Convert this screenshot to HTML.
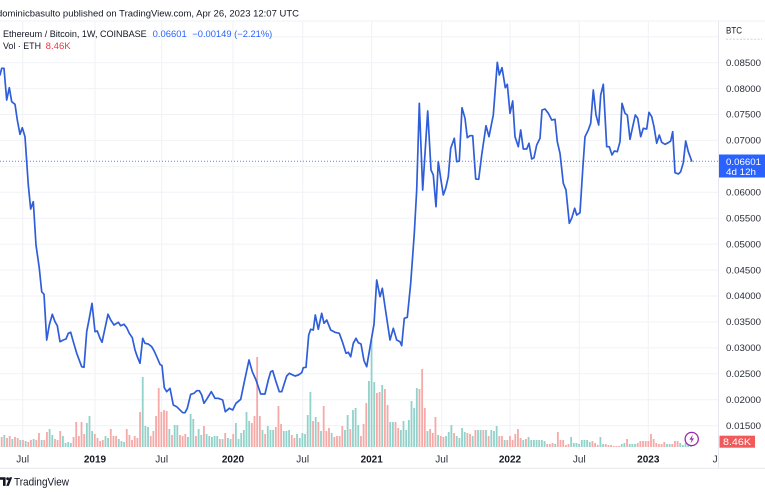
<!DOCTYPE html>
<html><head><meta charset="utf-8">
<style>
html,body{margin:0;padding:0;background:#fff;}
svg{display:block;font-family:"Liberation Sans",sans-serif;}
</style></head>
<body>
<svg width="765" height="495" viewBox="0 0 765 495" xmlns="http://www.w3.org/2000/svg">
<defs>
<clipPath id="pane"><rect x="0" y="21" width="718" height="430"/></clipPath>
<clipPath id="tax"><rect x="0" y="450" width="718" height="18"/></clipPath>
</defs>
<rect width="765" height="495" fill="#fff"/>
<!-- header -->
<text x="-3" y="16.5" font-size="9.5" fill="#131722" textLength="302" lengthAdjust="spacingAndGlyphs">dominicbasulto published on TradingView.com, Apr 26, 2023 12:07 UTC</text>
<line x1="0" y1="21" x2="765" y2="21" stroke="#eef0f3" stroke-width="1"/>
<!-- grid -->
<g stroke="#f0f2f5" stroke-width="1">
<line x1="0" x2="718" y1="36.8" y2="36.8"/>
<line x1="0" x2="718" y1="62.7" y2="62.7"/>
<line x1="0" x2="718" y1="88.6" y2="88.6"/>
<line x1="0" x2="718" y1="114.5" y2="114.5"/>
<line x1="0" x2="718" y1="140.4" y2="140.4"/>
<line x1="0" x2="718" y1="166.4" y2="166.4"/>
<line x1="0" x2="718" y1="192.3" y2="192.3"/>
<line x1="0" x2="718" y1="218.2" y2="218.2"/>
<line x1="0" x2="718" y1="244.1" y2="244.1"/>
<line x1="0" x2="718" y1="270.1" y2="270.1"/>
<line x1="0" x2="718" y1="296" y2="296"/>
<line x1="0" x2="718" y1="321.9" y2="321.9"/>
<line x1="0" x2="718" y1="347.9" y2="347.9"/>
<line x1="0" x2="718" y1="373.8" y2="373.8"/>
<line x1="0" x2="718" y1="399.7" y2="399.7"/>
<line x1="0" x2="718" y1="425.7" y2="425.7"/>
<line y1="21" y2="450" x1="22.7" x2="22.7"/>
<line y1="21" y2="450" x1="95" x2="95"/>
<line y1="21" y2="450" x1="161.7" x2="161.7"/>
<line y1="21" y2="450" x1="233" x2="233"/>
<line y1="21" y2="450" x1="302.7" x2="302.7"/>
<line y1="21" y2="450" x1="371.7" x2="371.7"/>
<line y1="21" y2="450" x1="441.7" x2="441.7"/>
<line y1="21" y2="450" x1="510" x2="510"/>
<line y1="21" y2="450" x1="579.3" x2="579.3"/>
<line y1="21" y2="450" x1="648.3" x2="648.3"/>
</g>
<line x1="718.5" y1="21" x2="718.5" y2="468" stroke="#e6e8ee" stroke-width="1"/>
<!-- volume -->
<g clip-path="url(#pane)">
<g transform="translate(1.7,447) scale(2.661,1)" stroke-width="0.68" fill="none">
<path stroke="#92d2ca" d="M1 0v-12M4 0v-8M7 0v-7M9 0v-6M12 0v-8M15 0v-7M18 0v-18M19 0v-12M23 0v-11M24 0v-4M25 0v-5M26 0v-4M32 0v-24M33 0v-31M34 0v-16M39 0v-11M40 0v-9M44 0v-8M45 0v-6M46 0v-5M53 0v-70M54 0v-21M55 0v-20M63 0v-18M65 0v-22M66 0v-22M70 0v-10M71 0v-33M72 0v-28M74 0v-18M75 0v-12M77 0v-13M78 0v-11M79 0v-10M80 0v-11M81 0v-11M83 0v-8M85 0v-9M86 0v-8M88 0v-24M89 0v-8M90 0v-14M91 0v-17M92 0v-35M93 0v-26M98 0v-17M100 0v-21M101 0v-17M102 0v-17M106 0v-16M107 0v-16M108 0v-17M111 0v-13M112 0v-9M113 0v-14M114 0v-13M115 0v-32M116 0v-55M118 0v-30M120 0v-16M124 0v-14M129 0v-17M130 0v-32M132 0v-37M133 0v-39M134 0v-22M138 0v-66M139 0v-107M140 0v-65M143 0v-62M146 0v-25M147 0v-25M150 0v-17M151 0v-26M152 0v-17M153 0v-27M154 0v-46M155 0v-39M156 0v-59M160 0v-16M164 0v-12M167 0v-11M168 0v-15M169 0v-22M171 0v-11M172 0v-9M173 0v-19M174 0v-15M177 0v-11M179 0v-17M180 0v-17M182 0v-17M184 0v-17M185 0v-16M186 0v-21M189 0v-7M196 0v-7M198 0v-10M199 0v-7M200 0v-7M201 0v-7M202 0v-7M203 0v-7M204 0v-6M208 0v-3M214 0v-10M215 0v-4M216 0v-4M217 0v-3M218 0v-7M219 0v-7M220 0v-7M221 0v-5M225 0v-10M226 0v-3M233 0v-3M234 0v-4M236 0v-3M237 0v-3M238 0v-3M250 0v-3M251 0v-3M255 0v-4M256 0v-2M257 0v-4M258 0v-4M259 0v-3"/>
<path stroke="#f5aaa8" d="M0 0v-10M2 0v-9M3 0v-11M5 0v-10M6 0v-9M8 0v-7M10 0v-5M11 0v-7M13 0v-7M14 0v-14M16 0v-7M17 0v-15M20 0v-8M21 0v-7M22 0v-16M27 0v-10M28 0v-25M29 0v-11M30 0v-25M31 0v-13M35 0v-13M36 0v-9M37 0v-6M38 0v-7M41 0v-18M42 0v-11M43 0v-11M47 0v-18M48 0v-12M49 0v-7M50 0v-11M51 0v-9M52 0v-35M56 0v-11M57 0v-16M58 0v-31M59 0v-59M60 0v-35M61 0v-37M62 0v-36M64 0v-12M67 0v-12M68 0v-11M69 0v-13M73 0v-11M76 0v-21M82 0v-8M84 0v-14M87 0v-13M94 0v-24M95 0v-31M96 0v-90M97 0v-31M99 0v-13M103 0v-20M104 0v-41M105 0v-23M109 0v-12M110 0v-9M117 0v-26M119 0v-25M121 0v-41M122 0v-16M123 0v-19M125 0v-10M126 0v-11M127 0v-11M128 0v-21M131 0v-18M135 0v-11M136 0v-23M137 0v-44M141 0v-54M142 0v-55M144 0v-58M145 0v-42M148 0v-25M149 0v-19M157 0v-58M158 0v-78M159 0v-39M161 0v-18M162 0v-14M163 0v-30M165 0v-11M166 0v-10M170 0v-14M175 0v-14M176 0v-13M178 0v-17M181 0v-17M183 0v-11M187 0v-11M188 0v-11M190 0v-7M191 0v-11M192 0v-7M193 0v-13M194 0v-18M195 0v-9M197 0v-8M205 0v-3M206 0v-3M207 0v-4M209 0v-15M210 0v-7M211 0v-7M212 0v-2M213 0v-3M222 0v-6M223 0v-4M224 0v-2M227 0v-3M228 0v-2M229 0v-2M230 0v-1M231 0v-1M232 0v-1M235 0v-8M239 0v-4M240 0v-6M241 0v-6M242 0v-6M243 0v-6M244 0v-13M245 0v-8M246 0v-4M247 0v-3M248 0v-3M249 0v-5M252 0v-3M253 0v-6M254 0v-6"/>
</g>
<!-- last price dotted -->
<line x1="0" x2="718" y1="161.2" y2="161.2" stroke="#5b7ee8" stroke-width="1" stroke-dasharray="1 2"/>
<!-- price line -->
<polyline fill="none" stroke="#2f5ed8" stroke-width="1.7" stroke-linejoin="round" stroke-linecap="round" points="0,75 1.7,68.3 4,68.3 6.7,100 9.3,87.7 11.7,101.7 15,104.3 17.3,120 20,134.3 22.3,127.7 25,136.7 26.7,161.7 28.3,185 30.7,209 33.3,201.7 36,245 39.3,268.3 41.7,291.7 44,294.3 46.7,340 49.3,325 52.3,314.3 55,321.7 57.3,325.7 60,341.7 63.3,340 66,339 68.3,333.3 70.7,332.3 73.3,341.7 76.7,353.3 81.7,366.7 84,367.3 86.7,331.7 89.3,318.3 92,303.3 95,331.7 97.3,331 100,338.3 102,342.3 105,328.3 108,314.3 110.7,320 114,325 118.3,322.3 120.7,325.7 124,324.3 126.7,327.7 129.3,333.3 132.3,337.7 135,350 137.3,356.7 140,363.3 142.7,338.3 145,343.3 148.3,344 151.7,346.7 154,350.7 156.7,356.7 160,364.3 162,365.7 164.3,387.7 166.7,391.7 170,388.3 173.3,405 176.7,406.7 179.3,409.3 182.7,412.7 185,412.7 187.3,408.3 190.7,394.3 194,393.3 196.7,390.7 199.3,390.7 201.7,395 204,403.3 207.3,398.3 211.3,391.7 215,398.3 218.3,398.3 222.7,400 225.3,411.7 229.3,408.3 232.7,410 236,403.3 240.7,399.3 244,383.3 249,360 252.3,371.7 256,380 260.7,394 265,394 268.3,380 270.7,371.7 272.7,370.7 276,381.7 279.3,391.7 281.7,391.7 286.7,376 289.3,373.3 295,376 298.3,375 301.7,372.7 303.3,367.7 306,367.3 308.7,335 310.7,329.3 313.3,330 315.3,315 318.3,329.3 321.7,313.3 324,323.3 326.7,320 330.7,330 335,332.3 339.3,333.3 342.7,342.7 346,353.3 348.3,352.3 350.7,356.7 353.3,343.3 356,338.3 358.3,342.7 361,344 364,360.7 366.7,366.7 370,347.3 374,324.3 376.7,280 380,296.7 382.3,288.3 386,313.3 390,340 393.3,328.3 396.7,340 400,341.7 401.7,345.7 404.3,318.3 407.3,317.3 410.7,283.3 414.3,233.3 416.7,190 419.3,103.3 422.7,190 427.7,111 431,170 433.3,175 436,206.7 438.3,161.7 440.7,178.3 443.3,195 445.7,188.3 448.3,176.7 450.7,148.3 454.3,138.3 456.7,161.7 459.3,161 462,107.7 465,118.3 467.3,137.7 470,135.7 472.7,135.7 475.7,179 478.7,179.3 481.7,155 486,125.7 489,136.7 493.3,115 497.3,62.3 499.3,75 502,67.7 505.3,87.7 507.3,84.3 510,113.3 512.7,101 515,136.7 518.3,146.7 520.7,130 523.3,149 526.7,149 529,143.3 531.7,159 534,157.7 536.7,145 540,138.3 542,110 545,109 548.3,113.3 551.7,120 555,119.3 557.3,141.7 560,153.3 563.3,183.3 566,190 569.3,223.3 571.7,218.3 574.7,208.3 576.7,215 580,212.7 582.7,170 585,136.7 588.3,130 590.7,123.3 593.3,90 596,115 598.7,125 600.7,95 603.3,84.3 606.7,146.7 609.3,146.7 612,155 614.3,151 617.3,151.7 620,141.7 622,103.3 625,113.3 627.3,115 630,139.3 632.7,126.7 635.3,115 637.7,118.3 640.7,136.7 643.3,128.3 646.7,129 649,112.3 651.7,116.7 654,126.7 656.7,143.3 659.3,135 661.7,142.3 665,144.3 668.3,142.7 670.7,141 672.7,131.7 675,172.7 678.3,174 680.7,171.7 683.3,162.7 685.7,141 688.3,151.7 691.7,161"/>
</g>
<!-- lightning icon -->
<circle cx="691.7" cy="439" r="6.6" fill="#fff" stroke="#9c27b0" stroke-width="1.3"/>
<path d="M692.8 434.6 L689.4 439.6 L691.6 439.6 L690.6 443.4 L694 438.4 L691.8 438.4 Z" fill="#9c27b0"/>
<!-- legend -->
<text x="3" y="37" font-size="9" fill="#131722" textLength="143.7" lengthAdjust="spacingAndGlyphs">Ethereum / Bitcoin, 1W, COINBASE</text>
<text x="152.7" y="37" font-size="9" fill="#2962ff" textLength="34" lengthAdjust="spacingAndGlyphs">0.06601</text>
<text x="192.3" y="37" font-size="9" fill="#2962ff" textLength="80" lengthAdjust="spacingAndGlyphs">−0.00149 (−2.21%)</text>
<text x="3" y="49" font-size="9" fill="#131722" textLength="38" lengthAdjust="spacingAndGlyphs">Vol · ETH</text>
<text x="45.7" y="49" font-size="9" fill="#f23645" textLength="25" lengthAdjust="spacingAndGlyphs">8.46K</text>
<!-- right axis -->
<text x="726" y="33.3" font-size="9" fill="#131722" textLength="16" lengthAdjust="spacingAndGlyphs">BTC</text>
<line x1="726" x2="762" y1="39.2" y2="39.2" stroke="#c9ccd3" stroke-width="0.8" stroke-dasharray="2 1.5"/>
<g font-size="9" fill="#2a2e39">
<text x="726" y="65.9" textLength="35" lengthAdjust="spacingAndGlyphs">0.08500</text>
<text x="726" y="91.8" textLength="35" lengthAdjust="spacingAndGlyphs">0.08000</text>
<text x="726" y="117.7" textLength="35" lengthAdjust="spacingAndGlyphs">0.07500</text>
<text x="726" y="143.6" textLength="35" lengthAdjust="spacingAndGlyphs">0.07000</text>
<text x="726" y="195.5" textLength="35" lengthAdjust="spacingAndGlyphs">0.06000</text>
<text x="726" y="221.4" textLength="35" lengthAdjust="spacingAndGlyphs">0.05500</text>
<text x="726" y="247.3" textLength="35" lengthAdjust="spacingAndGlyphs">0.05000</text>
<text x="726" y="273.3" textLength="35" lengthAdjust="spacingAndGlyphs">0.04500</text>
<text x="726" y="299.2" textLength="35" lengthAdjust="spacingAndGlyphs">0.04000</text>
<text x="726" y="325.1" textLength="35" lengthAdjust="spacingAndGlyphs">0.03500</text>
<text x="726" y="351.1" textLength="35" lengthAdjust="spacingAndGlyphs">0.03000</text>
<text x="726" y="377" textLength="35" lengthAdjust="spacingAndGlyphs">0.02500</text>
<text x="726" y="402.9" textLength="35" lengthAdjust="spacingAndGlyphs">0.02000</text>
<text x="726" y="428.9" textLength="35" lengthAdjust="spacingAndGlyphs">0.01500</text>
</g>
<rect x="719" y="154.5" width="46" height="23" fill="#2962ff"/>
<text x="726" y="164.9" font-size="9" fill="#fff" textLength="35" lengthAdjust="spacingAndGlyphs">0.06601</text>
<text x="726" y="174.8" font-size="9" fill="#fff" textLength="30" lengthAdjust="spacingAndGlyphs">4d 12h</text>
<rect x="719.5" y="435.7" width="35.5" height="12" fill="#f05a5a"/>
<text x="723" y="444.9" font-size="9" fill="#fff" textLength="28" lengthAdjust="spacingAndGlyphs">8.46K</text>
<!-- time axis -->
<g font-size="10" fill="#131722" text-anchor="middle" clip-path="url(#tax)">
<text x="22.7" y="462.5" fill="#2a2e39">Jul</text>
<text x="95" y="462.5" font-weight="bold">2019</text>
<text x="161.7" y="462.5" fill="#2a2e39">Jul</text>
<text x="233" y="462.5" font-weight="bold">2020</text>
<text x="302.7" y="462.5" fill="#2a2e39">Jul</text>
<text x="371.7" y="462.5" font-weight="bold">2021</text>
<text x="441.7" y="462.5" fill="#2a2e39">Jul</text>
<text x="510" y="462.5" font-weight="bold">2022</text>
<text x="579.3" y="462.5" fill="#2a2e39">Jul</text>
<text x="648.3" y="462.5" font-weight="bold">2023</text>
<text x="719" y="462.5" fill="#2a2e39">Jul</text>
</g>
<line x1="0" x2="765" y1="468.3" y2="468.3" stroke="#e6e8ee" stroke-width="1"/>
<!-- footer logo -->
<g fill="#131722">
<path d="M0 477.3h5.6v8.6h-2.6v-6.2h-3z"/>
<circle cx="7.6" cy="478.7" r="1.4"/>
<path d="M9.6 477.3h2.6l-3.4 8.6h-2.6z"/>
</g>
<text x="14" y="485.5" font-size="11" fill="#131722" textLength="55" lengthAdjust="spacingAndGlyphs">TradingView</text>
</svg>
</body></html>
